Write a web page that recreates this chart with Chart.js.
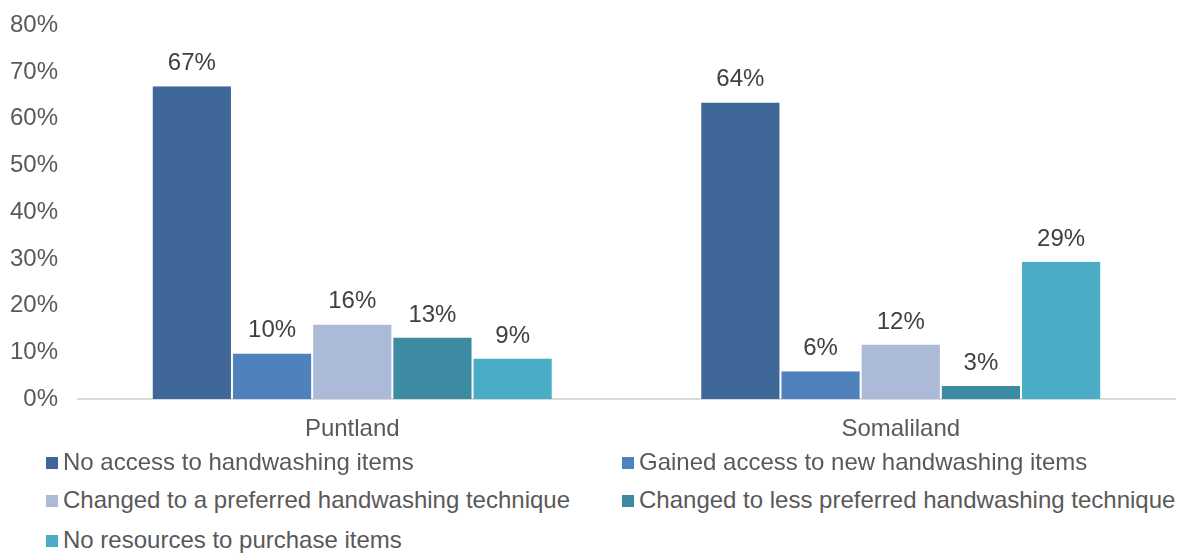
<!DOCTYPE html>
<html>
<head>
<meta charset="utf-8">
<script src="https://cdn.jsdelivr.net/npm/chart.js@4"></script>
<style>
  html, body { margin:0; padding:0; background:#fff; overflow:hidden; }
  #wrap { position:relative; width:1180px; height:554px; overflow:hidden; font-family:"Liberation Sans", Arial, sans-serif; }
  #chartBox { position:absolute; left:0; top:-9px; width:1180px; height:473px; }
  .leg { position:absolute; font-size:24px; color:#595959; white-space:nowrap; line-height:28px; }
  .leg i { display:inline-block; width:12px; height:12px; margin-right:5px; vertical-align:1px; }
</style>
</head>
<body>
<div id="wrap">
  <div id="chartBox"><canvas id="chart"></canvas></div>
  <div id="legend"></div>
</div>
<script>
const regions = ['Puntland', 'Somaliland'];
const seriesNames = [
  'No access to handwashing items',
  'Gained access to new handwashing items',
  'Changed to a preferred handwashing technique',
  'Changed to less preferred handwashing technique',
  'No resources to purchase items'
];
const seriesColors = ['#3F6899', '#4F81BD', '#AABAD7', '#3C8BA2', '#4BACC6'];
// share of households per region, in percent
const noAccess       = [67.0, 63.5];
const gainedAccess   = [9.8, 6.0];
const preferredTech  = [16.0, 11.7];
const lessPreferred  = [13.2, 2.8];
const noResources    = [8.7, 29.4];
const yTicks = [0, 10, 20, 30, 40, 50, 60, 70, 80];

const seriesValues = [noAccess, gainedAccess, preferredTech, lessPreferred, noResources];
const FONT = '"Liberation Sans", Arial, sans-serif';

// value labels above each bar
const barLabels = {
  id: 'barLabels',
  afterDatasetsDraw(chart) {
    const ctx = chart.ctx;
    ctx.save();
    ctx.font = '24px ' + FONT;
    ctx.fillStyle = '#404040';
    ctx.textAlign = 'center';
    ctx.textBaseline = 'alphabetic';
    chart.data.datasets.forEach((ds, i) => {
      chart.getDatasetMeta(i).data.forEach((bar, j) => {
        ctx.fillText(Math.round(ds.data[j]) + '%', bar.x, bar.y - 16);
      });
    });
    ctx.restore();
  }
};

new Chart(document.getElementById('chart'), {
  type: 'bar',
  data: {
    labels: regions,
    datasets: seriesNames.map((name, i) => ({
      label: name,
      data: seriesValues[i],
      backgroundColor: seriesColors[i],
      borderColor: 'rgba(255,255,255,0.5)',
      borderWidth: { left: 1, right: 1, top: 0, bottom: 0 },
      barPercentage: 1,
      categoryPercentage: 0.731
    }))
  },
  options: {
    responsive: true,
    maintainAspectRatio: false,
    animation: false,
    layout: { padding: { top: 1, left: 10, right: 5, bottom: 4 } },
    scales: {
      x: {
        grid: { display: false, drawTicks: false },
        border: { color: '#D9D9D9', width: 2 },
        ticks: { color: '#595959', font: { family: FONT, size: 24 }, padding: 16 }
      },
      y: {
        min: 0, max: 80,
        afterBuildTicks: axis => { axis.ticks = yTicks.map(v => ({ value: v })); },
        afterFit: axis => { axis.width = 68; },
        grid: { display: false, drawTicks: false },
        border: { display: false },
        ticks: { color: '#595959', font: { family: FONT, size: 24 }, padding: 20, callback: v => v + '%' }
      }
    },
    plugins: { legend: { display: false }, tooltip: { enabled: false } }
  },
  plugins: [barLabels]
});

// two-column legend under the plot
const legendPos = [[46, 448], [622, 448], [46, 486], [622, 486], [46, 526]];
document.getElementById('legend').innerHTML = seriesNames.map((name, i) =>
  `<div class="leg" style="left:${legendPos[i][0]}px;top:${legendPos[i][1]}px"><i style="background:${seriesColors[i]}"></i>${name}</div>`
).join('');
</script>
</body>
</html>
